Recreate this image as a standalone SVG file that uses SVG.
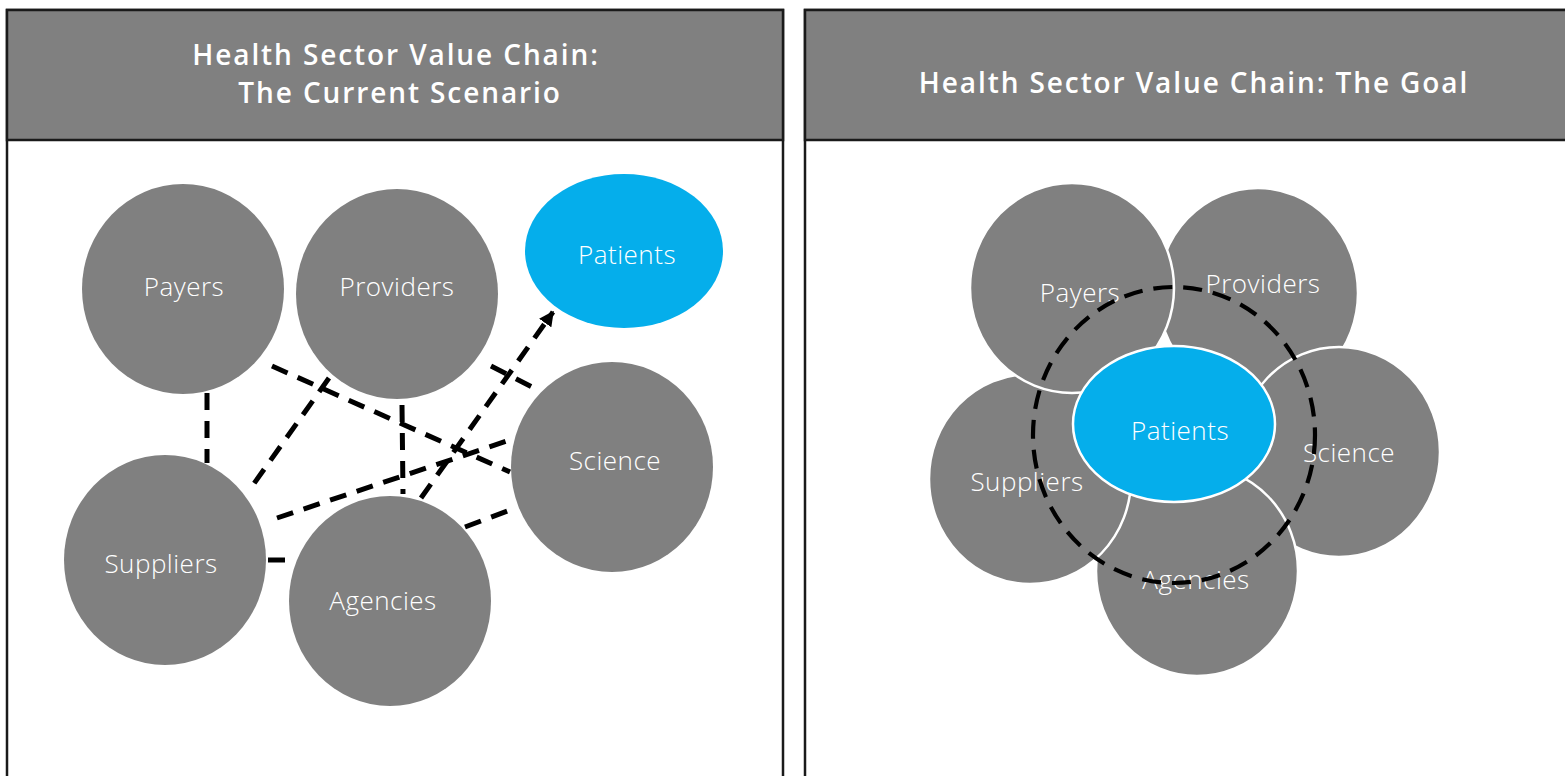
<svg xmlns="http://www.w3.org/2000/svg" width="1565" height="776" viewBox="0 0 1565 776">
<style>
.panel{fill:#ffffff;stroke:#1a1a1a;stroke-width:2.5}
.hdr{fill:#808080;stroke:#1a1a1a;stroke-width:2.5}
.htxt{font-family:"Open Sans","Liberation Sans",sans-serif;font-weight:600;font-size:28px;fill:#ffffff;text-anchor:middle;letter-spacing:1.9px}
.node{fill:#808080}
.node2{fill:#808080;stroke:#ffffff;stroke-width:2.5}
.pat{fill:#05AEEB}
.pat2{fill:#05AEEB;stroke:#ffffff;stroke-width:2.5}
.lbl{font-family:"Open Sans","Liberation Sans",sans-serif;font-weight:300;font-size:26px;fill:#ffffff;text-anchor:middle;letter-spacing:0.5px}
.dash{fill:none;stroke:#000000;stroke-width:5;stroke-dasharray:17 11}
.ring{fill:none;stroke:#000000;stroke-width:4.2;stroke-dasharray:19 11}
</style>
<defs>
<marker id="arrow" viewBox="0 0 10 10" refX="9" refY="5" markerWidth="3" markerHeight="3" orient="auto" markerUnits="strokeWidth">
<path d="M0,0 L10,5 L0,10 z" fill="#000000"/>
</marker>
</defs>
<rect width="1565" height="776" fill="#ffffff"/>
<g id="panel-left">
<rect class="panel" x="7" y="10" width="776" height="800"/>
<rect class="hdr" x="7" y="10" width="776" height="130"/>
<text class="htxt" x="396" y="65">Health Sector Value Chain:</text>
<text class="htxt" x="400" y="103">The Current Scenario</text>
</g>
<g id="panel-right">
<rect class="panel" x="805" y="10" width="800" height="800"/>
<rect class="hdr" x="805" y="10" width="800" height="130"/>
<text class="htxt" x="1194" y="93">Health Sector Value Chain: The Goal</text>
</g>
<g id="connectors-left">
<line class="dash" x1="207" y1="393" x2="207" y2="463"/>
<line class="dash" x1="272" y1="366" x2="510" y2="472"/>
<line class="dash" x1="329" y1="378" x2="248" y2="492"/>
<line class="dash" x1="402" y1="405" x2="403" y2="494"/>
<line class="dash" x1="491" y1="366" x2="540" y2="391"/>
<line class="dash" x1="277" y1="518" x2="510" y2="440"/>
<line class="dash" x1="465" y1="527" x2="510" y2="510"/>
<line class="dash" x1="268" y1="560" x2="287" y2="560"/>
<line class="dash" x1="421" y1="498" x2="553" y2="312" marker-end="url(#arrow)"/>
</g>
<g id="left-payers"><ellipse class="node" cx="183" cy="289" rx="101" ry="105"/><text class="lbl" x="184" y="296">Payers</text></g>
<g id="left-providers"><ellipse class="node" cx="397" cy="294" rx="101" ry="105"/><text class="lbl" x="397" y="296">Providers</text></g>
<g id="left-patients"><ellipse class="pat" cx="624" cy="251" rx="99" ry="77"/><text class="lbl" x="627" y="264">Patients</text></g>
<g id="left-science"><ellipse class="node" cx="612" cy="467" rx="101" ry="105"/><text class="lbl" x="615" y="470">Science</text></g>
<g id="left-suppliers"><ellipse class="node" cx="165" cy="560" rx="101" ry="105"/><text class="lbl" x="161" y="573">Suppliers</text></g>
<g id="left-agencies"><ellipse class="node" cx="390" cy="601" rx="101" ry="105"/><text class="lbl" x="383" y="610">Agencies</text></g>
<g id="right-providers"><ellipse class="node2" cx="1258" cy="293" rx="100" ry="105"/><text class="lbl" x="1263" y="293">Providers</text></g>
<g id="right-science"><ellipse class="node2" cx="1339" cy="452" rx="101" ry="105"/><text class="lbl" x="1349" y="462">Science</text></g>
<g id="right-agencies"><ellipse class="node2" cx="1197" cy="571" rx="101" ry="105"/><text class="lbl" x="1196" y="589">Agencies</text></g>
<g id="right-suppliers"><ellipse class="node2" cx="1030" cy="479" rx="101" ry="105"/><text class="lbl" x="1027" y="491">Suppliers</text></g>
<g id="right-payers"><ellipse class="node2" cx="1072" cy="288" rx="102" ry="105"/><text class="lbl" x="1080" y="302">Payers</text></g>
<g id="connectors-right">
<ellipse class="ring" cx="1174" cy="435" rx="141" ry="148"/>
</g>
<g id="right-patients"><ellipse class="pat2" cx="1174" cy="424" rx="101" ry="78"/><text class="lbl" x="1180" y="440">Patients</text></g>
</svg>
